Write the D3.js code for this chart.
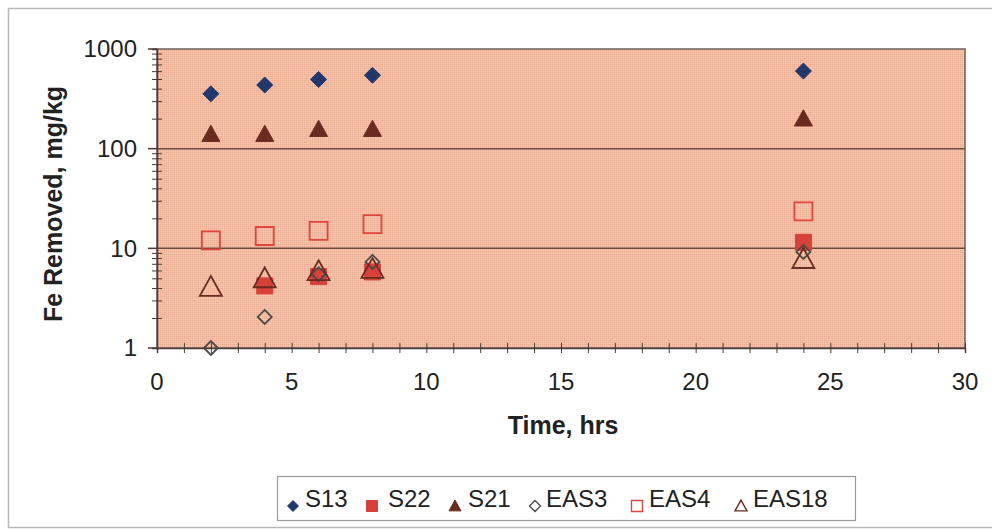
<!DOCTYPE html>
<html>
<head>
<meta charset="utf-8">
<script src="https://cdn.jsdelivr.net/npm/d3@7/dist/d3.min.js"></script>
<style>
  html, body { margin: 0; padding: 0; background: #fff; }
  svg { display: block; }
  text { font-family: "Liberation Sans", Arial, sans-serif; fill: #222; }
</style>
</head>
<body>
<svg id="chart" width="992" height="531"></svg>
<script>
// Sampling times (hours)
const times = [2, 4, 6, 8, 24];

// Fe removed (mg/kg) per sample
const s13   = [355, 435, 495, 545, 600];
const s22   = [null, 4.2, 5.2, 5.8, 11.5];
const s21   = [140, 140, 157, 157, 200];
const eas3  = [1, 2.05, 5.5, 7.3, 9.2];
const eas4  = [12, 13.3, 15, 17.5, 23.5];
const eas18 = [4.1, 5.0, 5.9, 6.2, 7.8];

const seriesNames = ["S13", "S22", "S21", "EAS3", "EAS4", "EAS18"];
const seriesValues = [s13, s22, s21, eas3, eas4, eas18];

// Axis ticks
const xTicks = [0, 5, 10, 15, 20, 25, 30];
const yTicks = [1, 10, 100, 1000];

// Marker styles per series
const styles = [
  { shape: "diamond",  size: 8,  fill: "#23386a", stroke: "#23386a" },
  { shape: "square",   size: 8,  fill: "#d8403a", stroke: "#d8403a" },
  { shape: "triangle", size: 9,  fill: "#6a2b20", stroke: "#6a2b20" },
  { shape: "diamond",  size: 7,  fill: "none",    stroke: "#4a4a4a" },
  { shape: "square",   size: 9,  fill: "none",    stroke: "#e0463c" },
  { shape: "triangle", size: 11, fill: "none",    stroke: "#6a2b20" }
];

function shapePath(shape, r) {
  if (shape === "diamond") return `M0,${-r}L${r},0L0,${r}L${-r},0Z`;
  if (shape === "square") return `M${-r},${-r}H${r}V${r}H${-r}Z`;
  const h = r * 1.8;
  return `M0,${-h * 0.55}L${r},${h * 0.45}L${-r},${h * 0.45}Z`;
}

const svg = d3.select("#chart");
const plot = { left: 157, right: 965, top: 49, bottom: 348 };

const x = d3.scaleLinear().domain([0, 30]).range([plot.left, plot.right]);
const y = d3.scaleLog().domain([1, 1000]).range([plot.bottom, plot.top]);

// Outer frame
svg.append("rect")
  .attr("x", 8.5).attr("y", 8.5).attr("width", 992).attr("height", 519)
  .attr("fill", "none").attr("stroke", "#b8b8b8").attr("stroke-width", 1.5);

// Finely dithered plot background
const defs = svg.append("defs");
const pat = defs.append("pattern")
  .attr("id", "bgtex").attr("patternUnits", "userSpaceOnUse")
  .attr("width", 2).attr("height", 2);
pat.append("rect").attr("width", 2).attr("height", 2).attr("fill", "#f1bca2");
pat.append("rect").attr("x", 0).attr("y", 0).attr("width", 1).attr("height", 1).attr("fill", "#eaae94");
pat.append("rect").attr("x", 1).attr("y", 1).attr("width", 1).attr("height", 1).attr("fill", "#f5c8b2");

svg.append("rect")
  .attr("x", plot.left).attr("y", plot.top)
  .attr("width", plot.right - plot.left).attr("height", plot.bottom - plot.top)
  .attr("fill", "url(#bgtex)");

// Horizontal gridlines at 10 and 100
svg.append("g").selectAll("line")
  .data([10, 100])
  .join("line")
  .attr("x1", plot.left).attr("x2", plot.right)
  .attr("y1", d => y(d)).attr("y2", d => y(d))
  .attr("stroke", "#6b4a3c").attr("stroke-width", 1.5);

// Plot border
svg.append("rect")
  .attr("x", plot.left).attr("y", plot.top)
  .attr("width", plot.right - plot.left).attr("height", plot.bottom - plot.top)
  .attr("fill", "none").attr("stroke", "#6e625a").attr("stroke-width", 1.5);

// X axis: ticks every hour crossing the axis line
const xAxis = svg.append("g").attr("transform", `translate(0,${plot.bottom})`)
  .call(d3.axisBottom(x).tickValues(d3.range(0, 31, 1)).tickSize(5).tickFormat(""));
xAxis.select(".domain").attr("stroke", "#4a3c34").attr("stroke-width", 1.5);
xAxis.selectAll(".tick line").attr("y1", -5).attr("y2", 5).attr("stroke", "#4a3c34");
svg.append("g").selectAll("text")
  .data(xTicks)
  .join("text")
  .attr("x", d => x(d)).attr("y", plot.bottom + 42)
  .attr("text-anchor", "middle")
  .attr("font-size", 24)
  .text(d => d);

// Y axis: log minor ticks crossing the axis, labelled decades
const minor = [];
for (let dec = 1; dec < 1000; dec *= 10) for (let k = 2; k <= 9; k++) minor.push(dec * k);
const yAxis = svg.append("g").attr("transform", `translate(${plot.left},0)`)
  .call(d3.axisLeft(y).tickValues(minor).tickSize(5).tickFormat(""));
yAxis.select(".domain").attr("stroke", "#4a3c34").attr("stroke-width", 1.5);
yAxis.selectAll(".tick line").attr("x1", -5).attr("x2", 5).attr("stroke", "#4a3c34");
svg.append("g").selectAll("line")
  .data(yTicks)
  .join("line")
  .attr("x1", plot.left - 9).attr("x2", plot.left)
  .attr("y1", d => y(d)).attr("y2", d => y(d))
  .attr("stroke", "#4a3c34").attr("stroke-width", 1.5);
svg.append("g").selectAll("text")
  .data(yTicks)
  .join("text")
  .attr("x", plot.left - 20).attr("y", d => y(d))
  .attr("dy", "0.35em")
  .attr("text-anchor", "end")
  .attr("font-size", 24)
  .text(d => d);

// Axis titles
svg.append("text")
  .attr("transform", "translate(62,204) rotate(-90)")
  .attr("text-anchor", "middle")
  .attr("font-size", 25).attr("font-weight", "bold")
  .text("Fe Removed, mg/kg");
svg.append("text")
  .attr("x", 563).attr("y", 434)
  .attr("text-anchor", "middle")
  .attr("font-size", 25).attr("font-weight", "bold")
  .text("Time, hrs");

// Data markers, series drawn in order
seriesValues.forEach((vals, i) => {
  const st = styles[i];
  const pts = times.map((t, j) => ({ t, v: vals[j] })).filter(d => d.v != null);
  svg.append("g").selectAll("path")
    .data(pts)
    .join("path")
    .attr("transform", d => `translate(${x(d.t)},${y(d.v)})`)
    .attr("d", shapePath(st.shape, st.size))
    .attr("fill", st.fill)
    .attr("stroke", st.stroke)
    .attr("stroke-width", st.fill === "none" ? 1.8 : 1);
});

// Legend
const legend = svg.append("g");
legend.append("rect")
  .attr("x", 277.5).attr("y", 476.5).attr("width", 578).attr("height", 44)
  .attr("fill", "#fff").attr("stroke", "#9a9a9a").attr("stroke-width", 1.2);
const legendMarkerX = [293, 372, 455, 535, 637, 741];
const legendTextX = [305, 388, 468, 546, 649, 753];
seriesNames.forEach((name, i) => {
  const st = styles[i];
  legend.append("path")
    .attr("transform", `translate(${legendMarkerX[i]},506)`)
    .attr("d", shapePath(st.shape, st.shape === "triangle" ? 6 : 5.5))
    .attr("fill", st.fill).attr("stroke", st.stroke)
    .attr("stroke-width", st.fill === "none" ? 1.4 : 1);
  legend.append("text")
    .attr("x", legendTextX[i]).attr("y", 507)
    .attr("font-size", 24)
    .text(name);
});
</script>
</body>
</html>
